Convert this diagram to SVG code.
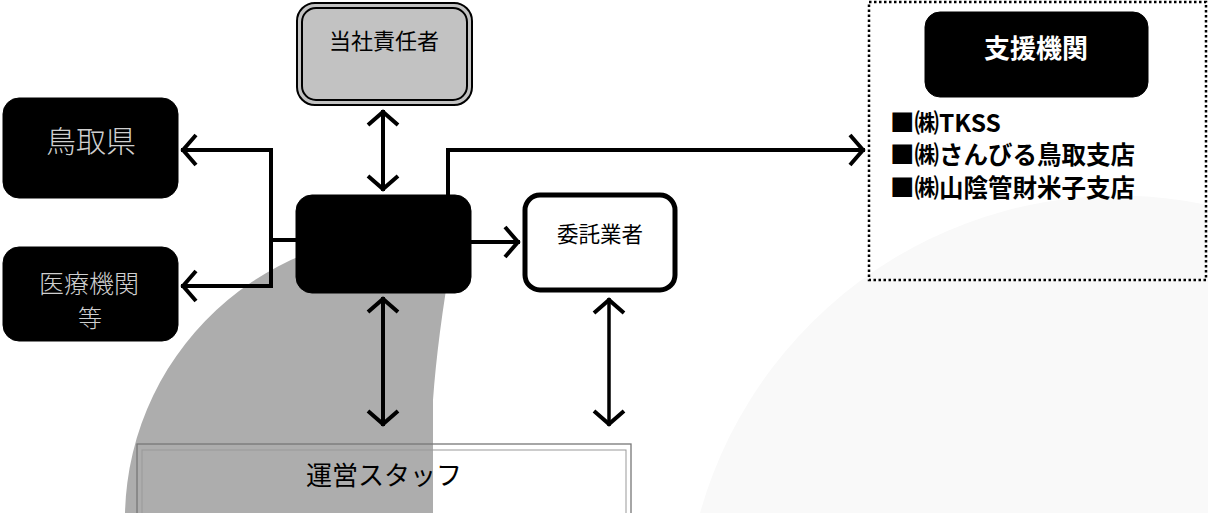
<svg xmlns="http://www.w3.org/2000/svg" width="1208" height="513" viewBox="0 0 1208 513">
<style>
.jp{font-family:"Noto Sans CJK JP","Noto Sans CJK SC",sans-serif}
.blk{fill:#000;stroke:#000}
.ln{fill:none;stroke:#000;stroke-width:4}
.ln3{fill:none;stroke:#000;stroke-width:3.5}
.hollow{fill:#cfcfcf;font-weight:300}
.lst{font-weight:bold;font-size:24.5px;fill:#000}
</style>
<defs>
<marker id="chev" viewBox="-20 -20 26 40" refX="2" refY="0" markerWidth="26" markerHeight="40" markerUnits="userSpaceOnUse" orient="auto-start-reverse">
<path d="M-13,-15 L0,0 L-13,15" fill="none" stroke="#000" stroke-width="4"/>
</marker>
</defs>
<rect width="1208" height="513" fill="#fff"/>
<g id="background">
<path d="M1208 300 L1208 513 L700 513 A435 435 0 0 1 1208 205 Z" fill="#f9f9f9"/>
<path d="M125 513 A286 286 0 0 1 455 237 Q 438 330 433 400 L433 513 Z" fill="#adadad"/>
</g>
<g id="connectors">
<line class="ln" x1="383" y1="110" x2="383" y2="191" marker-start="url(#chev)" marker-end="url(#chev)"/>
<polyline class="ln" points="296,240 271,240"/>
<polyline class="ln" points="271,240 271,150 181,150" marker-end="url(#chev)"/>
<polyline class="ln" points="271,240 271,286 181,286" marker-end="url(#chev)"/>
<line class="ln" x1="470" y1="242" x2="520" y2="242" marker-end="url(#chev)"/>
<polyline class="ln" points="448,196 448,150 865,150" marker-end="url(#chev)"/>
<line class="ln" x1="383" y1="297" x2="383" y2="426" marker-start="url(#chev)" marker-end="url(#chev)"/>
<line class="ln3" x1="609" y1="298" x2="609" y2="426" marker-start="url(#chev)" marker-end="url(#chev)"/>
</g>
<g id="node-tousha">
<rect x="297" y="3" width="175" height="102" rx="18" fill="#c2c2c2" stroke="#000" stroke-width="2"/>
<rect x="302" y="8" width="165" height="92" rx="14" fill="none" stroke="#000" stroke-width="2"/>
<text class="jp" x="384" y="49" font-size="22" text-anchor="middle" fill="#000">当社責任者</text>
</g>
<g id="node-tottori">
<rect x="3" y="98" width="175" height="100" rx="16" class="blk"/>
<text class="jp hollow" x="91" y="152" font-size="30" text-anchor="middle">鳥取県</text>
</g>
<g id="node-iryo">
<rect x="3" y="247" width="175" height="94" rx="16" class="blk"/>
<text class="jp hollow" x="89" y="293" font-size="25" text-anchor="middle">医療機関</text>
<text class="jp hollow" x="90" y="327" font-size="24" text-anchor="middle">等</text>
</g>
<g id="node-center">
<rect x="296" y="195" width="175" height="98" rx="16" class="blk"/>
</g>
<g id="node-itaku">
<rect x="525" y="195" width="150" height="95" rx="15" fill="#fff" stroke="#000" stroke-width="5"/>
<text class="jp" x="557" y="242" font-size="21.5" fill="#000">委託業者</text>
</g>
<g id="node-staff">
<rect x="137" y="444" width="494" height="80" fill="none" stroke="#777" stroke-width="1.3"/>
<rect x="142" y="450" width="484" height="70" fill="none" stroke="#999" stroke-width="1"/>
<text class="jp" x="384" y="485" font-size="26" text-anchor="middle" fill="#000">運営スタッフ</text>
</g>
<g id="node-shien">
<rect x="869" y="2" width="337" height="278" fill="none" stroke="#000" stroke-width="2.5" stroke-dasharray="2.5 2.5"/>
<rect x="925" y="12" width="223" height="85" rx="15" class="blk"/>
<text class="jp" x="1036" y="58" font-size="26" font-weight="bold" text-anchor="middle" fill="#fff">支援機関</text>
<text class="jp lst" x="890" y="132">■㈱TKSS</text>
<text class="jp lst" x="890" y="164">■㈱さんびる鳥取支店</text>
<text class="jp lst" x="890" y="197">■㈱山陰管財米子支店</text>
</g>
</svg>
